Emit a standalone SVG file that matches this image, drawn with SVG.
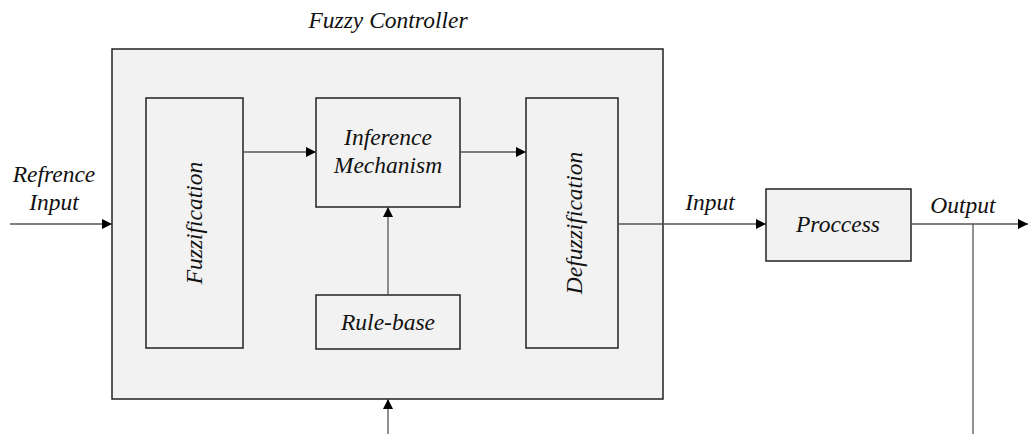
<svg xmlns="http://www.w3.org/2000/svg" width="1028" height="434" viewBox="0 0 1028 434">
<style>
.box{fill:#f2f2f2;stroke:#222;stroke-width:1.5}
.c{fill:none;stroke:#555;stroke-width:1.3}
</style>
<defs>
<marker id="a" viewBox="0 0 10 10" refX="10" refY="5" markerWidth="10" markerHeight="10" markerUnits="userSpaceOnUse" orient="auto">
<path d="M0,0 L10,5 L0,10 z" fill="#000"/>
</marker>
</defs>
<rect width="1028" height="434" fill="#fff"/>
<g font-family="Liberation Serif" font-style="italic" font-size="23.5" fill="#111" text-anchor="middle">
<g id="controller">
<rect class="box" x="112" y="49" width="551" height="350"/>
<text x="388" y="28">Fuzzy Controller</text>
</g>
<g id="fuzzification">
<rect class="box" x="146" y="98" width="97" height="250"/>
<text transform="translate(202,223) rotate(-90)">Fuzzification</text>
</g>
<g id="inference">
<rect class="box" x="316" y="98" width="144" height="109"/>
<text x="388" y="145">Inference</text>
<text x="388" y="173">Mechanism</text>
</g>
<g id="rulebase">
<rect class="box" x="316" y="295" width="144" height="54"/>
<text x="388" y="330">Rule-base</text>
</g>
<g id="defuzzification">
<rect class="box" x="526" y="98" width="92" height="250"/>
<text transform="translate(582,223) rotate(-90)">Defuzzification</text>
</g>
<g id="process">
<rect class="box" x="766" y="189" width="145" height="72"/>
<text x="838" y="232">Proccess</text>
</g>
<g id="labels">
<text x="54" y="182">Refrence</text>
<text x="54" y="210">Input</text>
<text x="710" y="210">Input</text>
<text x="963" y="213">Output</text>
</g>
</g>
<g id="connectors">
<line class="c" x1="10" y1="224" x2="112" y2="224" marker-end="url(#a)"/>
<line class="c" x1="243" y1="152" x2="316" y2="152" marker-end="url(#a)"/>
<line class="c" x1="460" y1="152" x2="526" y2="152" marker-end="url(#a)"/>
<line class="c" x1="388" y1="295" x2="388" y2="207" marker-end="url(#a)"/>
<line class="c" x1="388" y1="434" x2="388" y2="399" marker-end="url(#a)"/>
<line class="c" x1="618" y1="224" x2="766" y2="224" marker-end="url(#a)"/>
<line class="c" x1="911" y1="224" x2="1028" y2="224" marker-end="url(#a)"/>
<line class="c" x1="973" y1="224" x2="973" y2="434"/>
</g>
</svg>
